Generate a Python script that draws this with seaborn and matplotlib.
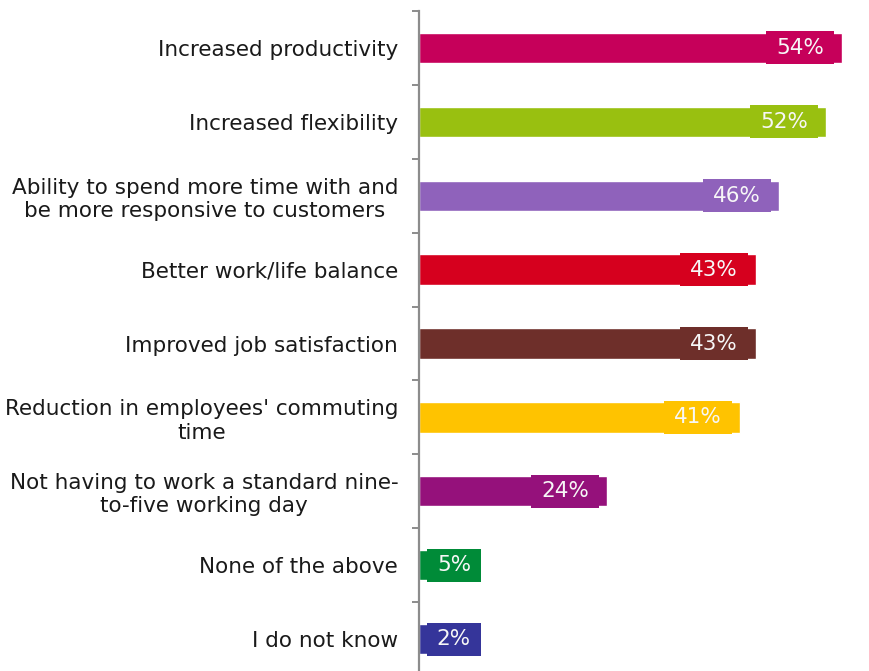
import numpy as np
import pandas as pd
import matplotlib
matplotlib.use("Agg")
import matplotlib.pyplot as plt
from matplotlib.patches import Rectangle
import seaborn as sns

benefits = [
    "Increased productivity",
    "Increased flexibility",
    "Ability to spend more time with and\nbe more responsive to customers",
    "Better work/life balance",
    "Improved job satisfaction",
    "Reduction in employees' commuting\ntime",
    "Not having to work a standard nine-\nto-five working day",
    "None of the above",
    "I do not know",
]
shares = [54, 52, 46, 43, 43, 41, 24, 5, 2]
colors = ["#C6005A", "#99C010", "#8F62BB", "#D6001E", "#6E2F2A",
          "#FFC300", "#95117B", "#008B38", "#35359A"]

sns.set_style("white")
plt.rcParams["font.family"] = ["DejaVu Sans"]

df = pd.DataFrame({"benefit": benefits, "share": shares})

fig = plt.figure(figsize=(8.69, 6.71), dpi=100)
W, H = 869, 671
left_px, top_px, bottom_px = 419, 11, 676
ax = fig.add_axes([left_px / W, (H - bottom_px) / H,
                   (W - left_px) / W, (bottom_px - top_px) / H])

sns.barplot(data=df, x="share", y="benefit", hue="benefit",
            palette=colors, orient="h", width=0.41, legend=False,
            saturation=1, ax=ax)

xmax = 57.5
ax.set_xlim(0, xmax)
ax.set_ylim(len(benefits) - 0.5, -0.5)
ax.set_xlabel("")
ax.set_ylabel("")
ax.set_xticks([])

for s in ["top", "right", "bottom"]:
    ax.spines[s].set_visible(False)
ax.spines["left"].set_color("#8C8C8C")
ax.spines["left"].set_linewidth(1.6)

ax.set_yticks(np.arange(-0.5, len(benefits) + 0.5, 1), minor=True)
ax.tick_params(axis="y", which="minor", left=True, length=5, width=1.4,
               color="#8C8C8C", direction="out")
ax.tick_params(axis="y", which="major", left=True, length=0, pad=15,
               labelsize=15.5, labelcolor="#1A1A1A")
for lab in ax.get_yticklabels():
    lab.set_multialignment("center")

# value labels sitting in a box of the bar's colour near each bar end
fig.canvas.draw()
renderer = fig.canvas.get_renderer()
px_per_unit = (W - left_px) / xmax
box_h = 0.447
for i, (v, c) in enumerate(zip(shares, colors)):
    t = ax.text(0, i, f"{v}%", ha="center", va="center",
                fontsize=15.5, color="#F7F7F7", zorder=5)
    tw = t.get_window_extent(renderer).width
    bw = (tw + 20) / px_per_unit
    if v - 1 - bw > 1:
        x1 = v - 1
        x0 = x1 - bw
    else:
        x0 = 1
        x1 = x0 + bw
    ax.add_patch(Rectangle((x0, i - box_h / 2), bw, box_h, facecolor=c,
                           edgecolor="none", zorder=4))
    t.set_x((x0 + x1) / 2)

fig.savefig("out.png", dpi=100)
